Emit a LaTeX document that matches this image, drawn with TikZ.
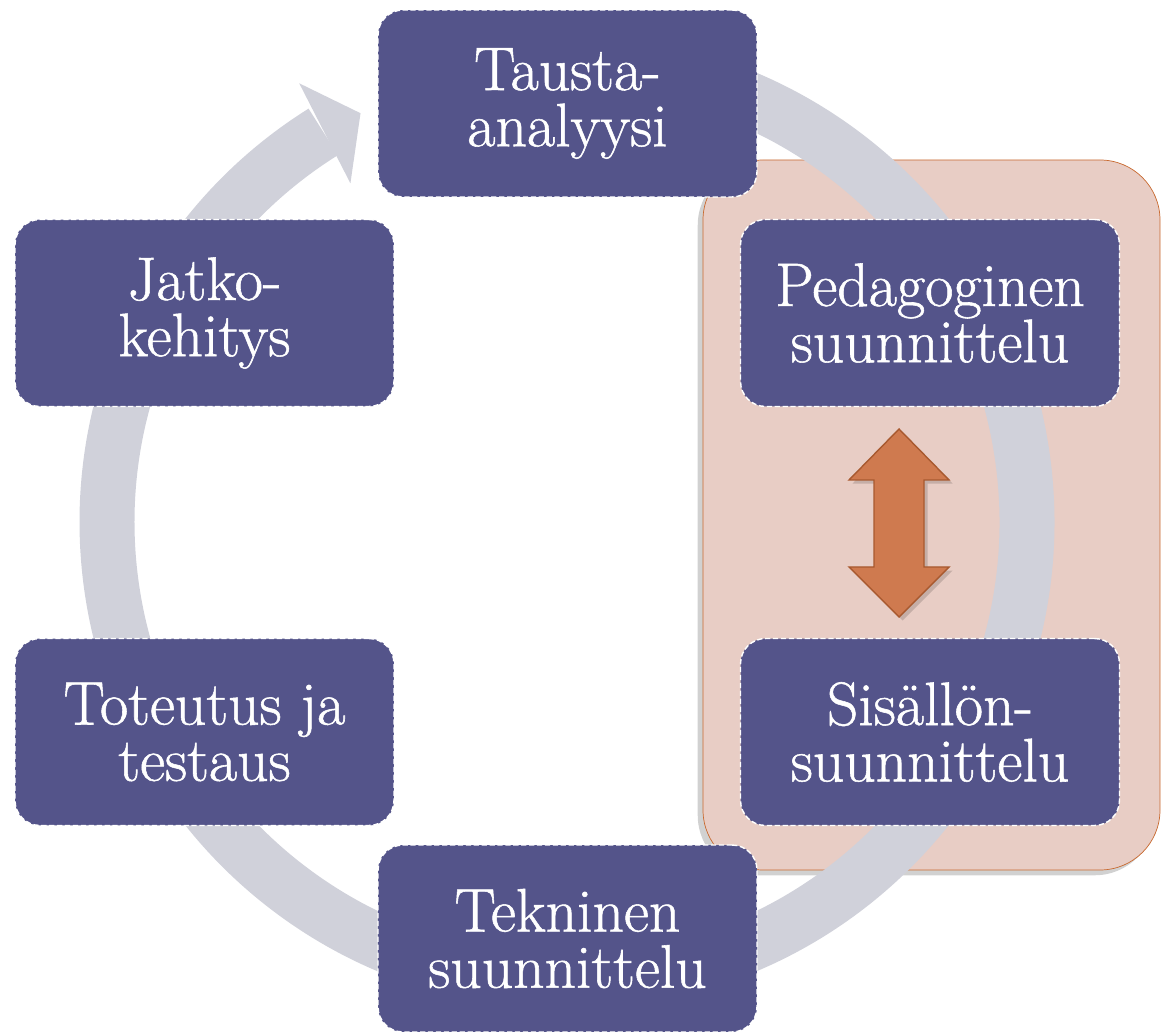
\documentclass[tikz,border=0pt]{standalone}
\usepackage{fontspec}
\usepackage{tikz}
\usetikzlibrary{shadows}

\newfontfamily\stagefont{Latin Modern Roman}[FakeBold=0.9]
\definecolor{stagefill}{HTML}{54548A}
\definecolor{ringgray}{HTML}{D0D1DA}
\definecolor{groupfill}{HTML}{E8CDC5}
\definecolor{groupline}{HTML}{C8692F}
\definecolor{linkfill}{HTML}{CF7A4F}
\definecolor{linkline}{HTML}{A8592F}

\begin{document}
\begin{tikzpicture}[x=0.02cm, y=0.02cm,
    stage/.style={rectangle, rounded corners=0.5cm, fill=stagefill, draw=white,
        line width=0.8pt, dash pattern=on 3pt off 1.5pt, text=white, align=center,
        minimum width=7.58cm, minimum height=3.74cm, inner sep=0pt,
        font=\stagefont\fontsize{35}{32}\selectfont},
    ringline/.style={line width=1.1cm, color=ringgray}]
    \useasboundingbox (0,0) rectangle (1163,1032);
    % design group behind the two planning stages
    \draw[groupline, fill=groupfill, rounded corners=1.2cm,
        drop shadow={shadow xshift=-3pt, shadow yshift=-3pt, fill=black, opacity=0.18}]
        (703,162) rectangle (1160,872);
    % cycle ring with its arrowhead
    \begin{scope}[shift={(567,510)}]
        \draw[ringline] (95:460) arc[start angle=95, end angle=-238, radius=460];
        \fill[ringgray] (122.6:402) -- (121.4:514) -- (116.8:458) -- cycle;
    \end{scope}
    % stages
    \node[stage] (tausta) at (567.5,928.5) {Tausta-\\analyysi};
    \node[stage] (jatko) at (204.5,719) {Jatko-\\kehitys};
    \node[stage] (peda) at (930,719) {Pedagoginen\\suunnittelu};
    \node[stage] (toteutus) at (204.5,300) {Toteutus ja\\testaus};
    \node[stage] (sisalto) at (930,300) {Sis\"all\"on-\\suunnittelu};
    \node[stage] (tekninen) at (567.5,93.5) {Tekninen\\suunnittelu};
    % two-way link between the planning stages
    \draw[linkline, fill=linkfill, line width=0.8pt,
        drop shadow={shadow xshift=2pt, shadow yshift=-2pt, fill=black, opacity=0.15}]
        (899,603) -- (949,552) -- (924,552) -- (924,465) -- (949,465) -- (899,415)
        -- (849,465) -- (874,465) -- (874,552) -- (849,552) -- cycle;
\end{tikzpicture}
\end{document}
